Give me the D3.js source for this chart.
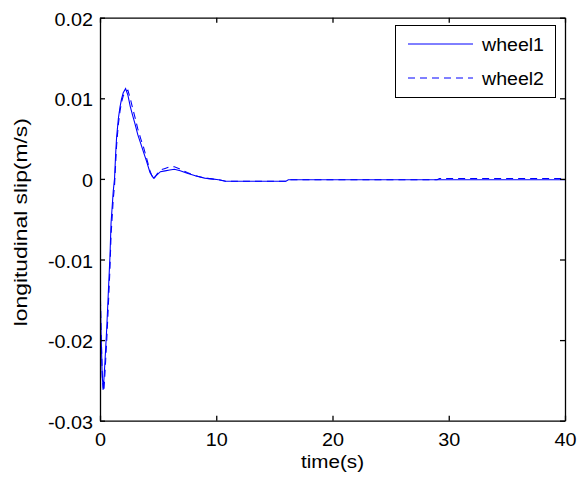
<!DOCTYPE html>
<html><head><meta charset="utf-8">
<script src="https://cdn.jsdelivr.net/npm/d3@7"></script>
<style>body{margin:0;background:#fff} text{font-family:"Liberation Sans",Arial,Helvetica,sans-serif}</style>
</head><body><svg id="c" width="578" height="477"></svg>
<script>
const time   = [0, 0.04, 0.09, 0.19, 0.28, 0.34, 0.43, 0.58, 0.71, 0.86, 0.95, 1.14, 1.25, 1.35, 1.43, 1.58, 1.72, 1.85, 2.0, 2.2, 2.4, 2.6, 2.8, 3.0, 3.25, 3.5, 3.75, 4.0, 4.3, 4.6, 4.9, 5.2, 5.6, 6.0, 6.4, 6.9, 7.5, 8.2, 9.0, 9.6, 10.2, 10.8, 12, 14, 16.0, 16.2, 20, 25, 29.0, 29.2, 35, 40];
const wheel1 = [0, -0.0155, -0.0190, -0.0245, -0.0260, -0.0248, -0.0226, -0.0185, -0.0143, -0.0095, -0.0055, -0.0015, 0, 0.0032, 0.0052, 0.0075, 0.0089, 0.0099, 0.0107, 0.0112, 0.0104, 0.0090, 0.0079, 0.0069, 0.0055, 0.0044, 0.0033, 0.0022, 0.0008, 0.0001, 0.0005, 0.0009, 0.0010, 0.0011, 0.0012, 0.0010, 0.0007, 0.0004, 0.0001, 0.0000, -0.0001, -0.0003, -0.0003, -0.0003, -0.0003, -0.0001, -0.0001, -0.0001, -0.0001, -0.0001, -0.0001, -0.0001];
const wheel2 = [0, -0.0150, -0.0185, -0.0240, -0.0264, -0.0262, -0.0240, -0.0200, -0.0160, -0.0110, -0.0070, -0.0025, -0.0008, 0.0020, 0.0042, 0.0068, 0.0084, 0.0095, 0.0103, 0.0109, 0.0110, 0.0100, 0.0088, 0.0077, 0.0062, 0.0050, 0.0039, 0.0026, 0.0010, -0.0001, 0.0006, 0.0011, 0.0013, 0.0015, 0.0015, 0.0012, 0.0008, 0.0004, 0.0001, 0.0000, -0.0001, -0.0003, -0.0003, -0.0003, -0.0003, -0.0001, -0.0001, -0.0001, -0.0001, 0.00005, 0.00005, 0.00005];
const seriesNames = ["wheel1", "wheel2"];
const xTicks = [0, 10, 20, 30, 40];
const yTicks = [-0.03, -0.02, -0.01, 0, 0.01, 0.02];
const yTickLabels = ["-0.03", "-0.02", "-0.01", "0", "0.01", "0.02"];
const xTitle = "time(s)";
const yTitle = "longitudinal slip(m/s)";

const svg = d3.select("#c");
const L = 100, R = 565, T = 17.7, B = 420.7;
const x = d3.scaleLinear().domain([0, 40]).range([L, R]);
const y = d3.scaleLinear().domain([-0.03, 0.02]).range([B, T]);
const FS = 18;

function stretch(sel, f) {
  sel.each(function () {
    const w = this.getComputedTextLength();
    this.setAttribute("textLength", w * f);
    this.setAttribute("lengthAdjust", "spacingAndGlyphs");
  });
}

// curves
svg.append("clipPath").attr("id", "pa").append("rect")
  .attr("x", L).attr("y", T).attr("width", R - L).attr("height", B - T);
const line = d3.line().x((d, i) => x(time[i])).y(d => y(d));
const styles = [{ dash: null }, { dash: "7,5" }];
[wheel1, wheel2].forEach((s, k) => {
  svg.append("path").datum(s).attr("d", line)
    .attr("fill", "none").attr("stroke", "#0000ff").attr("stroke-width", 1.1)
    .attr("stroke-dasharray", styles[k].dash)
    .attr("clip-path", "url(#pa)");
});

// axes (box with inward ticks)
const fmtY = d => yTickLabels[yTicks.indexOf(d)];
const ax = svg.append("g").attr("transform", `translate(0,${B})`)
  .call(d3.axisBottom(x).tickValues(xTicks).tickSizeInner(-5).tickSizeOuter(0).tickPadding(13).tickFormat(d3.format("d")));
const ay = svg.append("g").attr("transform", `translate(${L},0)`)
  .call(d3.axisLeft(y).tickValues(yTicks).tickSizeInner(-5).tickSizeOuter(0).tickPadding(7).tickFormat(fmtY));
const at = svg.append("g").attr("transform", `translate(0,${T})`)
  .call(d3.axisTop(x).tickValues(xTicks).tickSizeInner(-5).tickSizeOuter(0).tickFormat(""));
const ar = svg.append("g").attr("transform", `translate(${R},0)`)
  .call(d3.axisRight(y).tickValues(yTicks).tickSizeInner(-5).tickSizeOuter(0).tickFormat(""));
[ax, ay, at, ar].forEach(g => {
  g.selectAll("path,line").attr("stroke", "#000").attr("stroke-width", 1.3);
  g.selectAll("text").attr("font-size", FS).attr("fill", "#000")
    .attr("font-family", '"Liberation Sans",Arial,Helvetica,sans-serif');
});
ay.selectAll(".tick text").attr("dy", "0.42em");
stretch(ax.selectAll("text"), 1.1);
stretch(ay.selectAll("text"), 1.1);

// titles
svg.append("text").attr("x", (L + R) / 2).attr("y", 468).attr("text-anchor", "middle")
  .attr("font-size", FS).attr("textLength", 63).attr("lengthAdjust", "spacingAndGlyphs").text(xTitle);
svg.append("text").attr("transform", `translate(27,${(T + B) / 2 + 3}) rotate(-90)`).attr("text-anchor", "middle")
  .attr("font-size", FS).attr("textLength", 208).attr("lengthAdjust", "spacingAndGlyphs").text(yTitle);

// legend
const lg = svg.append("g");
lg.append("rect").attr("x", 395.5).attr("y", 25.5).attr("width", 160).attr("height", 72)
  .attr("fill", "#fff").attr("stroke", "#000").attr("stroke-width", 1);
seriesNames.forEach((n, k) => {
  const yy = 44 + k * 34;
  lg.append("line").attr("x1", 408).attr("x2", 473).attr("y1", yy).attr("y2", yy)
    .attr("stroke", "#0000ff").attr("stroke-width", 1).attr("stroke-dasharray", styles[k].dash);
  lg.append("text").attr("x", 482).attr("y", yy + 6.5).attr("font-size", FS)
    .attr("textLength", 62).attr("lengthAdjust", "spacingAndGlyphs").text(n);
});
</script></body></html>
